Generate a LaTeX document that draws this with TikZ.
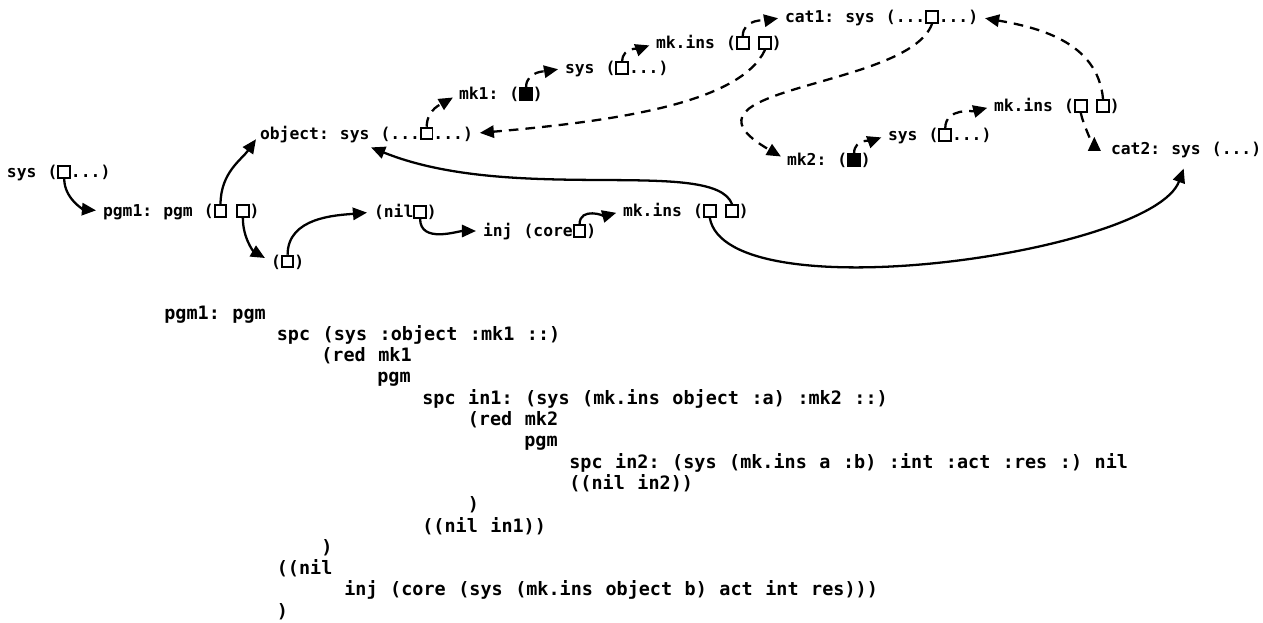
\documentclass[tikz,border=0pt]{standalone}
\usepackage{fontspec}
\newfontfamily\codefont{DejaVu Sans Mono}
\newfontfamily\listfont{DejaVu Sans Mono}[WordSpace=1.13]
\usetikzlibrary{positioning, arrows.meta}

\begin{document}
\begin{tikzpicture}[x=0.02cm, y=-0.02cm]
    % Define styles
    \tikzset{
        code/.style={
            font=\codefont\bfseries\fontsize{9.3}{11}\selectfont\frenchspacing,
            inner sep=0pt, outer sep=0pt,
            text height=7.6pt, text depth=1.2pt
        },
        hole/.style={
            draw, line width=1.1pt,
            minimum size=6.6pt, inner sep=0pt
        },
        full/.style={
            hole, fill=black
        },
        link/.style={
            line width=1.3pt,
            -{Triangle[length=8pt, width=7pt]},
            shorten >=4pt
        },
        ref/.style={
            link, dash pattern=on 5.5pt off 4pt
        },
        listing/.style={
            font=\listfont\bfseries\fontsize{10.5}{12}\selectfont\frenchspacing,
            inner sep=0pt, anchor=base west
        }
    }
    \useasboundingbox (0,0) rectangle (1263,622);

    % Program graph
    \node[code, anchor=west] (sys) at (7,172) {sys (};
    \node[hole, right=0pt of sys] (sysbox) {};
    \node[code, right=0pt of sysbox] (sysend) {...)};

    \node[code, anchor=west] (pgm) at (103,211) {pgm1: pgm (};
    \node[hole, right=0pt of pgm] (pgmleft) {};
    \node[hole, right=5pt of pgmleft] (pgmright) {};
    \node[code, right=0pt of pgmright] (pgmend) {)};

    \node[code, anchor=west] (seq) at (271,261.5) {(};
    \node[hole, right=0pt of seq] (seqbox) {};
    \node[code, right=0pt of seqbox] (seqend) {)};

    \node[code, anchor=west] (nil) at (374,212) {(nil};
    \node[hole, right=0pt of nil] (nilbox) {};
    \node[code, right=0pt of nilbox] (nilend) {)};

    \node[code, anchor=west] (inj) at (483,231) {inj (core};
    \node[hole, right=0pt of inj] (injbox) {};
    \node[code, right=0pt of injbox] (injend) {)};

    \node[code, anchor=west] (insc) at (623,211) {mk.ins (};
    \node[hole, right=0pt of insc] (inscleft) {};
    \node[hole, right=5pt of inscleft] (inscright) {};
    \node[code, right=0pt of inscright] (inscend) {)};

    % Object chain
    \node[code, anchor=west] (obj) at (260,133.5) {object: sys (...};
    \node[hole, right=0pt of obj] (objbox) {};
    \node[code, right=0pt of objbox] (objend) {...)};

    \node[code, anchor=west] (mka) at (459,94) {mk1: (};
    \node[full, right=0pt of mka] (mkabox) {};
    \node[code, right=0pt of mkabox] (mkaend) {)};

    \node[code, anchor=west] (sysb) at (565,68) {sys (};
    \node[hole, right=0pt of sysb] (sysbbox) {};
    \node[code, right=0pt of sysbbox] (sysbend) {...)};

    \node[code, anchor=west] (insa) at (656,43) {mk.ins (};
    \node[hole, right=0pt of insa] (insaleft) {};
    \node[hole, right=5pt of insaleft] (insaright) {};
    \node[code, right=0pt of insaright] (insaend) {)};

    \node[code, anchor=west] (cata) at (785,17) {cat1: sys (...};
    \node[hole, right=0pt of cata] (catabox) {};
    \node[code, right=0pt of catabox] (cataend) {...)};

    \node[code, anchor=west] (mkb) at (787,160) {mk2: (};
    \node[full, right=0pt of mkb] (mkbbox) {};
    \node[code, right=0pt of mkbbox] (mkbend) {)};

    \node[code, anchor=west] (sysc) at (888,135) {sys (};
    \node[hole, right=0pt of sysc] (syscbox) {};
    \node[code, right=0pt of syscbox] (syscend) {...)};

    \node[code, anchor=west] (insb) at (994,106) {mk.ins (};
    \node[hole, right=0pt of insb] (insbleft) {};
    \node[hole, right=5pt of insbleft] (insbright) {};
    \node[code, right=0pt of insbright] (insbend) {)};

    \node[code, anchor=west] (catb) at (1111,149) {cat2: sys (...)};

    % Solid links
    \draw[link] (sysbox.south) to[out=-90, in=175] (pgm.west);
    \draw[link] (pgmleft.north) to[out=90, in=235] (obj.west);
    \draw[link] (pgmright.south) to[out=-90, in=150] (seq.west);
    \draw[link] (seqbox.north) to[out=90, in=185] (nil.west);
    \draw[link] (nilbox.south) to[out=-90, in=180] (inj.west);
    \draw[link] (injbox.north) to[out=90, in=195] (insc.west);
    \draw[link] (inscright.north) to[out=110, in=-22, out looseness=0.35, in looseness=1.1] ([xshift=14pt, yshift=-2pt]obj.south);
    \draw[link] (inscleft.south) to[out=-80, in=-110, looseness=0.52] ([yshift=-3pt]catb.south);

    % Dashed links
    \draw[ref] (objbox.north) to[out=90, in=210] (mka.west);
    \draw[ref] (mkabox.north) to[out=90, in=190] (sysb.west);
    \draw[ref] (sysbbox.north) to[out=90, in=200] (insa.west);
    \draw[ref] (insaleft.north) to[out=90, in=190] (cata.west);
    \draw[ref] (insaright.south) to[out=-115, in=5, out looseness=0.5, in looseness=1.2] (objend.east);
    \draw[ref] (catabox.south) to[out=-110, in=150, out looseness=0.9, in looseness=1.9] (mkb.west);
    \draw[ref] (mkbbox.north) to[out=90, in=200] (sysc.west);
    \draw[ref] (syscbox.north) to[out=90, in=195] (insb.west);
    \draw[ref, shorten >=0pt] (insbleft.south) to[out=-80, in=-90] ([xshift=-9.5pt, yshift=7pt]catb.west);
    \draw[ref] (insbright.north) to[out=95, in=-10] (cataend.east);

    % Listing
    \foreach \x/\row/\txt in {164/0/{pgm1: pgm},
        276.5/1/{spc (sys :object :mk1 ::)},
        321/2/{(red mk1},
        377/3/{pgm},
        422/4/{spc in1: (sys (mk.ins object :a) :mk2 ::)},
        467.5/5/{(red mk2},
        524/6/{pgm},
        569/7/{spc in2: (sys (mk.ins a :b) :int :act :res :) nil},
        569/8/{((nil in2))},
        467.5/9/{)},
        422/10/{((nil in1))},
        321/11/{)},
        276.5/12/{((nil},
        344/13/{inj (core (sys (mk.ins object b) act int res)))},
        276.5/14/{)}}
        \node[listing] (line\row) at (\x, 319+21.3*\row) {\txt};

\end{tikzpicture}
\end{document}
